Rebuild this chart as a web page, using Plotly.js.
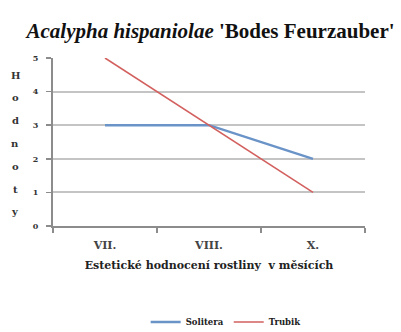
<!DOCTYPE html>
<html>
<head>
<meta charset="utf-8">
<script src="https://cdn.plot.ly/plotly-3.0.1.min.js"></script>
<style>
  html, body { margin: 0; padding: 0; background: #fff; }
  #chart { width: 401px; height: 332px; }
</style>
</head>
<body>
<div id="chart"></div>
<script>
// Months of the assessment and the scores of the two plantings
const months = ['VII.', 'VIII.', 'X.'];
const solitera = [3, 3, 2];
const trubik = [5, 3, 1];
const seriesNames = ['Solitera', 'Trubik'];
const yTitleLetters = ['H', 'o', 'd', 'n', 'o', 't', 'y'];

const serif = 'Liberation Serif, Times New Roman, serif';
const smallSerif = 'DejaVu Serif, serif';

const traces = [
  {
    x: months, y: solitera, name: seriesNames[0], type: 'scatter', mode: 'lines',
    line: { color: '#6a93c8', width: 2.4 }
  },
  {
    x: months, y: trubik, name: seriesNames[1], type: 'scatter', mode: 'lines',
    line: { color: '#d2605e', width: 1.6 }
  }
];

// vertical, letter-by-letter axis caption on the left
const plotTop = 58, plotBottom = 226;
const annotations = yTitleLetters.map((ch, i) => ({
  text: ch,
  xref: 'paper', yref: 'paper',
  x: (15 - 53) / 312,
  y: (plotBottom - (75 + i * 22.8)) / (plotBottom - plotTop),
  xanchor: 'center', yanchor: 'middle',
  showarrow: false,
  font: { family: smallSerif, size: 10, color: '#333', weight: 'bold' }
}));

const layout = {
  width: 401, height: 332,
  margin: { l: 53, r: 36, t: 58, b: 106 },
  paper_bgcolor: '#fff', plot_bgcolor: '#fff',
  title: {
    text: "<i>Acalypha hispaniolae</i> 'Bodes Feurzauber'",
    font: { family: serif, size: 21, color: '#111', weight: 'bold' },
    x: 0.525, xanchor: 'center', xref: 'container',
    y: 1 - 31 / 332, yanchor: 'middle', yref: 'container'
  },
  xaxis: {
    type: 'category',
    categoryorder: 'array', categoryarray: months,
    range: [-0.5, 2.5],
    automargin: false,
    showline: true, linecolor: '#8c8c8c', linewidth: 2,
    showgrid: false, zeroline: false,
    ticks: 'outside', tickson: 'boundaries', ticklen: 5, tickcolor: '#8c8c8c', tickwidth: 1.5,
    ticklabelstandoff: 8,
    tickfont: { family: smallSerif, size: 11, color: '#444', weight: 'bold' },
    title: {
      text: 'Estetické hodnocení rostliny  v měsících',
      font: { family: smallSerif, size: 11, color: '#222', weight: 'bold' },
      standoff: 10
    },
    fixedrange: true
  },
  yaxis: {
    range: [0, 5], dtick: 1,
    automargin: false,
    showline: true, linecolor: '#8c8c8c', linewidth: 2,
    showgrid: true, gridcolor: '#c4c4c4', gridwidth: 2,
    zeroline: false,
    ticks: 'outside', ticklen: 5, tickcolor: '#8c8c8c', tickwidth: 1.5,
    ticklabelstandoff: 6,
    tickfont: { family: smallSerif, size: 8, color: '#333', weight: 'bold' },
    fixedrange: true
  },
  showlegend: true,
  legend: {
    orientation: 'h',
    x: 0.555, xanchor: 'center',
    yref: 'container',
    y: 1 - 322 / 332, yanchor: 'middle',
    font: { family: smallSerif, size: 8.5, color: '#222', weight: 'bold' },
    itemwidth: 30,
    tracegroupgap: 0
  },
  annotations: annotations
};

Plotly.newPlot('chart', traces, layout, { displayModeBar: false, staticPlot: true });
</script>
</body>
</html>
